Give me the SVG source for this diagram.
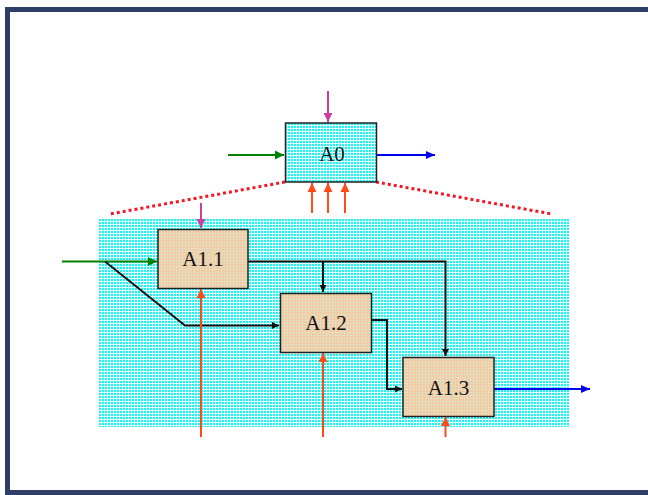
<svg xmlns="http://www.w3.org/2000/svg" width="648" height="495" viewBox="0 0 648 495">
<style>
.lbl{font-family:"Liberation Serif","Times New Roman",serif;font-size:21px;fill:#111;text-anchor:middle;dominant-baseline:central}
.box{stroke:#222;stroke-width:1.5}
.k{stroke:#111;stroke-width:2;fill:none}
.g{stroke:#008000;stroke-width:2;fill:none}
.b{stroke:#0000EE;stroke-width:2;fill:none}
.m{stroke:#C8409C;stroke-width:2;fill:none}
.o{stroke:#FF4A1A;stroke-width:2;fill:none}
.dot{stroke:#F01828;stroke-width:3;stroke-dasharray:3 3;fill:none}
</style>
<defs>
<pattern id="cy" width="3" height="3" patternUnits="userSpaceOnUse">
<rect width="3" height="3" fill="#E0FFFF"/>
<rect width="2" height="2" fill="#1CF4F4"/>
</pattern>
<pattern id="pc" width="3" height="3" patternUnits="userSpaceOnUse">
<rect width="3" height="3" fill="#E2DCC0"/>
<rect width="2" height="2" fill="#F6C89C"/>
</pattern>
<marker id="ak" markerWidth="8" markerHeight="8" refX="7" refY="4" orient="auto" markerUnits="userSpaceOnUse"><path d="M0,0.5 L7,4 L0,7.5 Z" fill="#111"/></marker>
<marker id="ag" markerWidth="10" markerHeight="10" refX="9" refY="5" orient="auto" markerUnits="userSpaceOnUse"><path d="M0,0.5 L9,5 L0,9.5 Z" fill="#008000"/></marker>
<marker id="ab" markerWidth="10" markerHeight="10" refX="9" refY="5" orient="auto" markerUnits="userSpaceOnUse"><path d="M0,1 L9,5 L0,9 Z" fill="#0000EE"/></marker>
<marker id="am" markerWidth="10" markerHeight="10" refX="9" refY="5" orient="auto" markerUnits="userSpaceOnUse"><path d="M0,0.5 L9,5 L0,9.5 Z" fill="#C8409C"/></marker>
<marker id="ao" markerWidth="10" markerHeight="10" refX="9" refY="5" orient="auto" markerUnits="userSpaceOnUse"><path d="M0,0.5 L9,5 L0,9.5 Z" fill="#FF4A1A"/></marker>
</defs>
<rect x="0" y="0" width="648" height="495" fill="#FFFFFF"/>
<rect x="7.5" y="9.5" width="650" height="483" fill="none" stroke="#2E3E66" stroke-width="5"/>
<rect x="99" y="219" width="470" height="208" fill="url(#cy)"/>
<g id="connectors">
<path class="dot" d="M285,182 L110,214"/>
<path class="dot" d="M376,182 L552,214"/>
<path class="m" d="M328,91 V122" marker-end="url(#am)"/>
<path class="g" d="M228,155 H284" marker-end="url(#ag)"/>
<path class="b" d="M377,155 H435" marker-end="url(#ab)"/>
<path class="o" d="M312,213 V183" marker-end="url(#ao)"/>
<path class="o" d="M328,213 V183" marker-end="url(#ao)"/>
<path class="o" d="M345,213 V183" marker-end="url(#ao)"/>
<path class="m" d="M201,203 V228" marker-end="url(#am)"/>
<path class="g" d="M62,261.5 H157" marker-end="url(#ag)"/>
<path class="k" d="M105,261.5 L185,325.5 H279" marker-end="url(#ak)"/>
<path class="o" d="M201,437 V289" marker-end="url(#ao)"/>
<path class="k" d="M248,261.5 H445.5 V356" marker-end="url(#ak)"/>
<path class="k" d="M323,261.5 V292" marker-end="url(#ak)"/>
<path class="k" d="M372,320 H387 V389 H402" marker-end="url(#ak)"/>
<path class="o" d="M323,437 V353" marker-end="url(#ao)"/>
<path class="o" d="M445.5,437 V417" marker-end="url(#ao)"/>
<path class="b" d="M494,389 H590" marker-end="url(#ab)"/>
</g>
<g id="A0">
<rect class="box" x="285.5" y="123" width="91" height="59" fill="url(#cy)"/>
<text class="lbl" x="332" y="154">A0</text>
</g>
<g id="A1.1">
<rect class="box" x="158" y="229.5" width="90" height="59" fill="url(#pc)"/>
<text class="lbl" x="203" y="258.5">A1.1</text>
</g>
<g id="A1.2">
<rect class="box" x="280.5" y="293.5" width="91" height="59" fill="url(#pc)"/>
<text class="lbl" x="326" y="322.5">A1.2</text>
</g>
<g id="A1.3">
<rect class="box" x="403" y="357.5" width="91" height="59" fill="url(#pc)"/>
<text class="lbl" x="448.5" y="387.5">A1.3</text>
</g>
</svg>
